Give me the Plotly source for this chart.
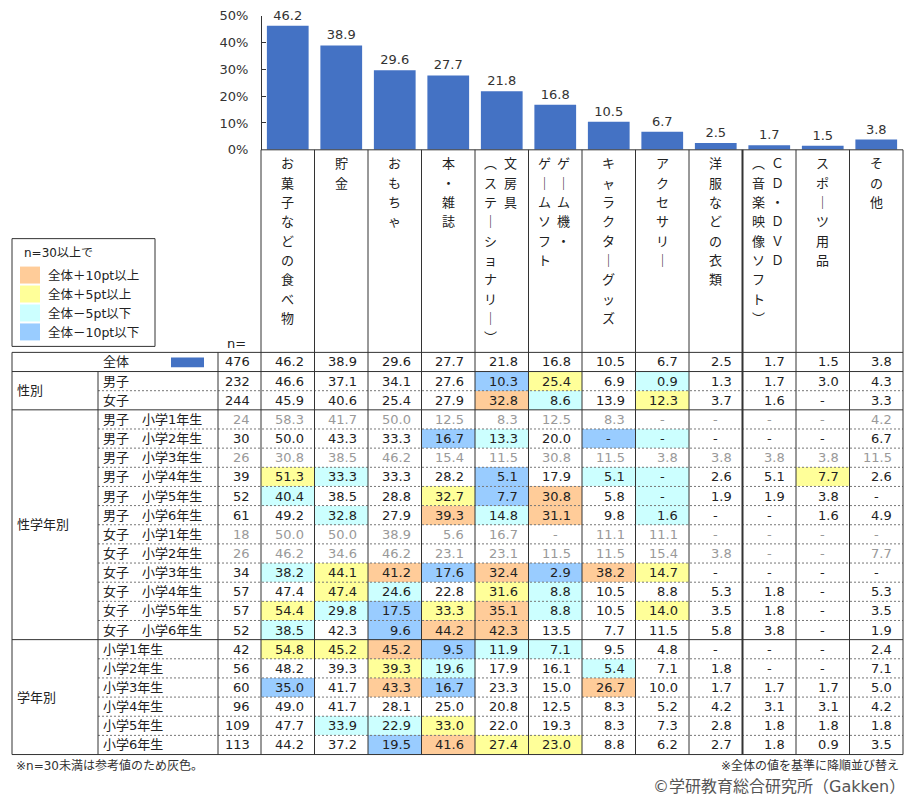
import plotly.graph_objects as go

# ---- data ----
categories = ["お菓子などの食べ物", "貯金", "おもちゃ", "本・雑誌", "文房具（ステーショナリー）",
              "ゲーム機・ゲームソフト", "キャラクターグッズ", "アクセサリー", "洋服などの衣類",
              "CD・DVD（音楽映像ソフト）", "スポーツ用品", "その他"]

# header text written vertically, columns listed right to left
header_cols = [
    ["お菓子などの食べ物"],
    ["貯金"],
    ["おもちゃ"],
    ["本・雑誌"],
    ["文房具", "︵ステ｜ショナリ｜︶"],
    ["ゲ｜ム機・", "ゲ｜ムソフト"],
    ["キャラクタ｜グッズ"],
    ["アクセサリ｜"],
    ["洋服などの衣類"],
    ["ＣＤ・ＤＶＤ", "︵音楽映像ソフト︶"],
    ["スポ｜ツ用品"],
    ["その他"],
]

row_labels = ["全体", "男子", "女子",
              "男子　小学1年生", "男子　小学2年生", "男子　小学3年生",
              "男子　小学4年生", "男子　小学5年生", "男子　小学6年生",
              "女子　小学1年生", "女子　小学2年生", "女子　小学3年生",
              "女子　小学4年生", "女子　小学5年生", "女子　小学6年生",
              "小学1年生", "小学2年生", "小学3年生", "小学4年生", "小学5年生", "小学6年生"]
n_values = [476, 232, 244, 24, 30, 26, 39, 52, 61, 18, 26, 34, 57, 57, 52, 42, 56, 60, 96, 109, 113]

overall = [46.2, 38.9, 29.6, 27.7, 21.8, 16.8, 10.5, 6.7, 2.5, 1.7, 1.5, 3.8]
boys = [46.6, 37.1, 34.1, 27.6, 10.3, 25.4, 6.9, 0.9, 1.3, 1.7, 3.0, 4.3]
girls = [45.9, 40.6, 25.4, 27.9, 32.8, 8.6, 13.9, 12.3, 3.7, 1.6, 0, 3.3]
boys_g1 = [58.3, 41.7, 50.0, 12.5, 8.3, 12.5, 8.3, 0, 0, 0, 0, 4.2]
boys_g2 = [50.0, 43.3, 33.3, 16.7, 13.3, 20.0, 0, 0, 0, 0, 0, 6.7]
boys_g3 = [30.8, 38.5, 46.2, 15.4, 11.5, 30.8, 11.5, 3.8, 3.8, 3.8, 3.8, 11.5]
boys_g4 = [51.3, 33.3, 33.3, 28.2, 5.1, 17.9, 5.1, 0, 2.6, 5.1, 7.7, 2.6]
boys_g5 = [40.4, 38.5, 28.8, 32.7, 7.7, 30.8, 5.8, 0, 1.9, 1.9, 3.8, 0]
boys_g6 = [49.2, 32.8, 27.9, 39.3, 14.8, 31.1, 9.8, 1.6, 0, 0, 1.6, 4.9]
girls_g1 = [50.0, 50.0, 38.9, 5.6, 16.7, 0, 11.1, 11.1, 0, 0, 0, 0]
girls_g2 = [46.2, 34.6, 46.2, 23.1, 23.1, 11.5, 11.5, 15.4, 3.8, 0, 0, 7.7]
girls_g3 = [38.2, 44.1, 41.2, 17.6, 32.4, 2.9, 38.2, 14.7, 0, 0, 0, 0]
girls_g4 = [47.4, 47.4, 24.6, 22.8, 31.6, 8.8, 10.5, 8.8, 5.3, 1.8, 0, 5.3]
girls_g5 = [54.4, 29.8, 17.5, 33.3, 35.1, 8.8, 10.5, 14.0, 3.5, 1.8, 0, 3.5]
girls_g6 = [38.5, 42.3, 9.6, 44.2, 42.3, 13.5, 7.7, 11.5, 5.8, 3.8, 0, 1.9]
grade1 = [54.8, 45.2, 45.2, 9.5, 11.9, 7.1, 9.5, 4.8, 0, 0, 0, 2.4]
grade2 = [48.2, 39.3, 39.3, 19.6, 17.9, 16.1, 5.4, 7.1, 1.8, 0, 0, 7.1]
grade3 = [35.0, 41.7, 43.3, 16.7, 23.3, 15.0, 26.7, 10.0, 1.7, 1.7, 1.7, 5.0]
grade4 = [49.0, 41.7, 28.1, 25.0, 20.8, 12.5, 8.3, 5.2, 4.2, 3.1, 3.1, 4.2]
grade5 = [47.7, 33.9, 22.9, 33.0, 22.0, 19.3, 8.3, 7.3, 2.8, 1.8, 1.8, 1.8]
grade6 = [44.2, 37.2, 19.5, 41.6, 27.4, 23.0, 8.8, 6.2, 2.7, 1.8, 0.9, 3.5]

rows = [overall, boys, girls,
        boys_g1, boys_g2, boys_g3, boys_g4, boys_g5, boys_g6,
        girls_g1, girls_g2, girls_g3, girls_g4, girls_g5, girls_g6,
        grade1, grade2, grade3, grade4, grade5, grade6]

groups = [("性別", 1, 3), ("性学年別", 3, 15), ("学年別", 15, 21)]

legend_labels = ["全体＋10pt以上", "全体＋5pt以上", "全体－5pt以下", "全体－10pt以下"]
legend_colors = ["#FFCC99", "#FFFF99", "#CCFFFF", "#99CCFF"]

# ---- layout helpers (pixel -> axis units) ----
W, H = 914, 799
COL_W = 53.5
ROW_H = 19.19
X0_PX = 261
Y0_PX = 352
SY = 1.017   # vertical spacing factor
BAR = "#4472C4"
TXT = "#222222"
GREY = "#999999"
FONT = "DejaVu Sans, Noto Sans CJK JP, sans-serif"


def sy(p):
    return Y0_PX + (p - Y0_PX) * SY


def xu(px):
    return -0.5 + (px - X0_PX) / COL_W


def yu(py):
    return (py - Y0_PX) / ROW_H


def px(p):
    return p / W


def py(p):
    return 1 - sy(p) / H


n_rows = len(rows)
n_cols = len(categories)
XL, XG, XR, XN, XE = xu(12), xu(98), xu(218), -0.5, n_cols - 0.5


def code(v, base, n):
    # colour rule from the legend, only for n >= 30
    if n < 30:
        return None
    d = round(v - base, 1)
    if d >= 10:
        return 1
    if d >= 5:
        return 2
    if d <= -10:
        return 4
    if d <= -5:
        return 3
    return None


z = [[code(v, b, n_values[r]) for v, b in zip(rows[r], overall)] for r in range(n_rows)]

fig = go.Figure()

fig.add_trace(go.Bar(
    x=categories, y=overall, xaxis="x", yaxis="y",
    marker=dict(color=BAR, line=dict(width=0)), width=0.78,
    texttemplate="%{y:.1f}", textposition="outside", cliponaxis=False,
    constraintext="none", textfont=dict(size=13, color="#333", family=FONT),
    hoverinfo="skip",
))

fig.add_trace(go.Heatmap(
    x=categories, y=[r + 0.5 for r in range(n_rows)], z=z, xaxis="x", yaxis="y2",
    zmin=0.5, zmax=4.5, showscale=False, hoverinfo="skip",
    colorscale=[[0, legend_colors[0]], [0.25, legend_colors[0]],
                [0.25, legend_colors[1]], [0.5, legend_colors[1]],
                [0.5, legend_colors[2]], [0.75, legend_colors[2]],
                [0.75, legend_colors[3]], [1, legend_colors[3]]],
))

shapes = []


def hline(y, x0, x1, dash=None, color="#333", width=1):
    shapes.append(dict(type="line", xref="x", yref="y2", x0=x0, x1=x1, y0=y, y1=y,
                       line=dict(color=color, width=width, dash=dash)))


def vline(x, y0, y1, width=1):
    shapes.append(dict(type="line", xref="x", yref="y2", x0=x, x1=x, y0=y0, y1=y1,
                       line=dict(color="#333", width=width)))


# dashed row separators inside groups
for g, r0, r1 in groups:
    for r in range(r0 + 1, r1):
        hline(r, XG, XE, dash="2px,2px", color="#777")
# solid separators
hline(0, XL, XE)
hline(1, XL, XE)
for g, r0, r1 in groups:
    hline(r1, XL, XE)
hline(yu(149), -0.5, XE)  # bar baseline
vline(XL, 0, n_rows)
vline(XG, 1, n_rows)
vline(XR, 0, n_rows)
for k in range(n_cols + 1):
    vline(k - 0.5, yu(149), n_rows, width=2 if k == 9 else 1)

# blue swatch for the overall row
shapes.append(dict(type="rect", xref="x", yref="y2", x0=xu(171), x1=xu(204),
                   y0=0.27, y1=0.77, fillcolor=BAR, line=dict(width=0)))

# legend box
shapes.append(dict(type="rect", xref="paper", yref="paper", x0=px(12), x1=px(155),
                   y0=py(238), y1=py(346), line=dict(color="#333", width=1)))
for i, c in enumerate(legend_colors):
    shapes.append(dict(type="rect", xref="paper", yref="paper", x0=px(20), x1=px(40),
                       y0=py(266 + i * 19), y1=py(283 + i * 19), fillcolor=c, line=dict(width=0)))

ann = []


def text(x, y, s, xanchor="center", color=TXT, size=13, xref="x", yref="y2"):
    ann.append(dict(x=x, y=y, xref=xref, yref=yref, text=s, showarrow=False,
                    xanchor=xanchor, yanchor="middle",
                    font=dict(size=size, color=color, family=FONT)))


# vertical header labels
step = 19.375 / ROW_H
for j, cols in enumerate(header_cols):
    offs = [0] if len(cols) == 1 else [0.16, -0.21]
    for col, dx in zip(cols, offs):
        for k, ch in enumerate(col):
            text(j + dx, yu(163) + k * step, ch)

text(xu(236), yu(343), "n=")

# table body
for r in range(n_rows):
    yc = r + 0.5
    grey = n_values[r] < 30
    color = GREY if grey else TXT
    text(xu(101), yc, row_labels[r], xanchor="left")
    text(XN - 9 / COL_W, yc, str(n_values[r]), xanchor="right", color=color)
    for j, v in enumerate(rows[r]):
        if v == 0:
            text(j, yc, "-", color=color)
        else:
            text(j + 0.5 - 9 / COL_W, yc, f"{v:.1f}", xanchor="right", color=color)

for g, r0, r1 in groups:
    text(xu(15), (r0 + r1) / 2, g, xanchor="left")

# legend texts
text(px(22), py(252), "n=30以上で", xanchor="left", size=12, xref="paper", yref="paper")
for i, lab in enumerate(legend_labels):
    text(px(46), py(275 + i * 19), lab, xanchor="left", size=12.5, xref="paper", yref="paper")

# footnotes
text(px(14), py(766), "※n=30未満は参考値のため灰色。", xanchor="left", size=12,
     xref="paper", yref="paper", color="#333")
text(px(901), py(766), "※全体の値を基準に降順並び替え", xanchor="right", size=12,
     xref="paper", yref="paper", color="#333")
text(px(907), py(787), "©学研教育総合研究所（Gakken）", xanchor="right", size=16,
     xref="paper", yref="paper", color="#555")

# y2 (table rows) spans the whole page height
y2_top = (0 - Y0_PX) / (ROW_H * SY)
y2_bottom = (H - Y0_PX) / (ROW_H * SY)

fig.update_layout(
    width=W, height=H, autosize=False,
    margin=dict(l=0, r=0, t=0, b=0),
    paper_bgcolor="white", plot_bgcolor="rgba(0,0,0,0)",
    showlegend=False,
    xaxis=dict(domain=[0, 1], range=[xu(0), xu(W)], visible=False, anchor="y2"),
    yaxis=dict(domain=[1 - sy(149) / H, 1 - sy(14.5) / H], range=[0, 50], anchor="free",
               position=X0_PX / W, dtick=10, ticksuffix="%", showgrid=False,
               zeroline=False, showline=True, linecolor="#333", linewidth=1,
               ticks="inside", ticklen=4, tickcolor="#333", ticklabelstandoff=10,
               tickfont=dict(size=13, color="#333", family=FONT)),
    yaxis2=dict(domain=[0, 1], range=[y2_bottom, y2_top], visible=False, anchor="x"),
    shapes=shapes,
    annotations=ann,
)

# pin the fixed-size figure to the top-left corner of the window
page_fix = ("document.body.style.margin='0';"
            "var gd=document.getElementById('{plot_id}');"
            "gd.style.position='fixed';gd.style.left='0';gd.style.top='0';")
fig.write_html("out.html", config={"displayModeBar": False}, post_script=page_fix)
